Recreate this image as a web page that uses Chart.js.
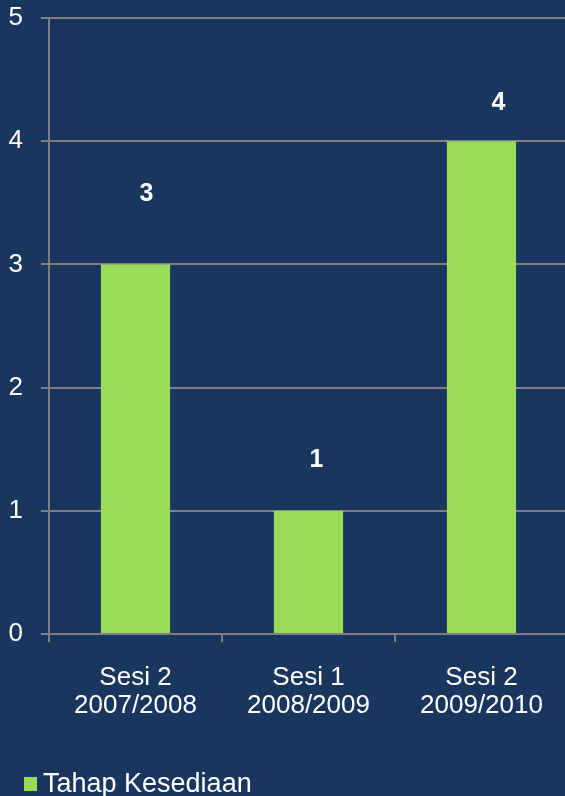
<!DOCTYPE html>
<html>
<head>
<meta charset="utf-8">
<script src="https://cdn.jsdelivr.net/npm/chart.js@4/dist/chart.umd.min.js"></script>
<style>
  html, body { margin: 0; padding: 0; background: #18365E; overflow: hidden; }
  #wrap { width: 568px; height: 796px; }
</style>
</head>
<body>
<div id="wrap"><canvas id="c" width="568" height="796"></canvas></div>
<script>
const categories = [["Sesi 2", "2007/2008"], ["Sesi 1", "2008/2009"], ["Sesi 2", "2009/2010"]];
const seriesName = "Tahap Kesediaan";
const values = [3, 1, 4];
const yTicks = [0, 1, 2, 3, 4, 5];

const BG = "#18365E";
const BAR = "#9BDB5A";
const GRID = "#808080";
const FONT = "'Liberation Sans', Arial, sans-serif";

const bgPlugin = {
  id: "bg",
  beforeDraw(chart) {
    const ctx = chart.ctx;
    ctx.save();
    ctx.fillStyle = BG;
    ctx.fillRect(0, 0, chart.width, chart.height);
    ctx.restore();
  }
};

const labelPlugin = {
  id: "valueLabels",
  afterDatasetsDraw(chart, args, opts) {
    const ctx = chart.ctx;
    const meta = chart.getDatasetMeta(0);
    ctx.save();
    ctx.fillStyle = "#ffffff";
    ctx.font = "bold 25px " + FONT;
    ctx.textAlign = "center";
    ctx.textBaseline = "middle";
    meta.data.forEach((bar, i) => {
      const v = chart.data.datasets[0].data[i];
      const off = opts.offsets[i];
      ctx.fillText(String(v), bar.x + off[0], bar.y - off[1]);
    });
    ctx.restore();
  }
};

const legendPlugin = {
  id: "customLegend",
  afterDraw(chart, args, opts) {
    const ctx = chart.ctx;
    const ds = chart.data.datasets[0];
    ctx.save();
    ctx.fillStyle = ds.backgroundColor;
    ctx.fillRect(opts.x, opts.y, 13, 14);
    ctx.fillStyle = "#ffffff";
    ctx.font = "27px " + FONT;
    ctx.textAlign = "left";
    ctx.textBaseline = "alphabetic";
    ctx.fillText(ds.label, opts.x + 19, opts.y + 15);
    ctx.restore();
  }
};

new Chart(document.getElementById("c"), {
  type: "bar",
  data: {
    labels: categories,
    datasets: [{
      label: seriesName,
      data: values,
      backgroundColor: BAR,
      borderWidth: 0,
      barPercentage: 0.4,
      categoryPercentage: 1.0
    }]
  },
  options: {
    responsive: false,
    animation: false,
    layout: { padding: { top: 18, right: 0, bottom: 0, left: 0 } },
    plugins: {
      legend: { display: false },
      tooltip: { enabled: false },
      valueLabels: { offsets: [[11, 70], [8, 51], [17, 38]] },
      customLegend: { x: 24, y: 777 }
    },
    scales: {
      x: {
        grid: { display: true, drawOnChartArea: false, drawTicks: true, tickLength: 8, color: GRID, lineWidth: 2, offset: true },
        border: { display: true, color: GRID, width: 2 },
        ticks: { color: "#ffffff", font: { family: FONT, size: 26, lineHeight: 1.08 }, padding: 22, maxRotation: 0, autoSkip: false },
        afterFit(scale) { scale.height = 796 - 634; scale.paddingTop = 0; scale.paddingBottom = 0; }
      },
      y: {
        min: 0,
        max: 5,
        afterBuildTicks(scale) { scale.ticks = yTicks.map(v => ({ value: v })); },
        grid: { color: GRID, lineWidth: 2, tickLength: 8, drawTicks: true },
        border: { display: true, color: GRID, width: 2 },
        ticks: { color: "#ffffff", font: { family: FONT, size: 26 }, padding: 18 },
        afterFit(scale) { scale.width = 49; scale.paddingTop = 0; scale.paddingBottom = 0; }
      }
    }
  },
  plugins: [bgPlugin, labelPlugin, legendPlugin]
});
</script>
</body>
</html>
